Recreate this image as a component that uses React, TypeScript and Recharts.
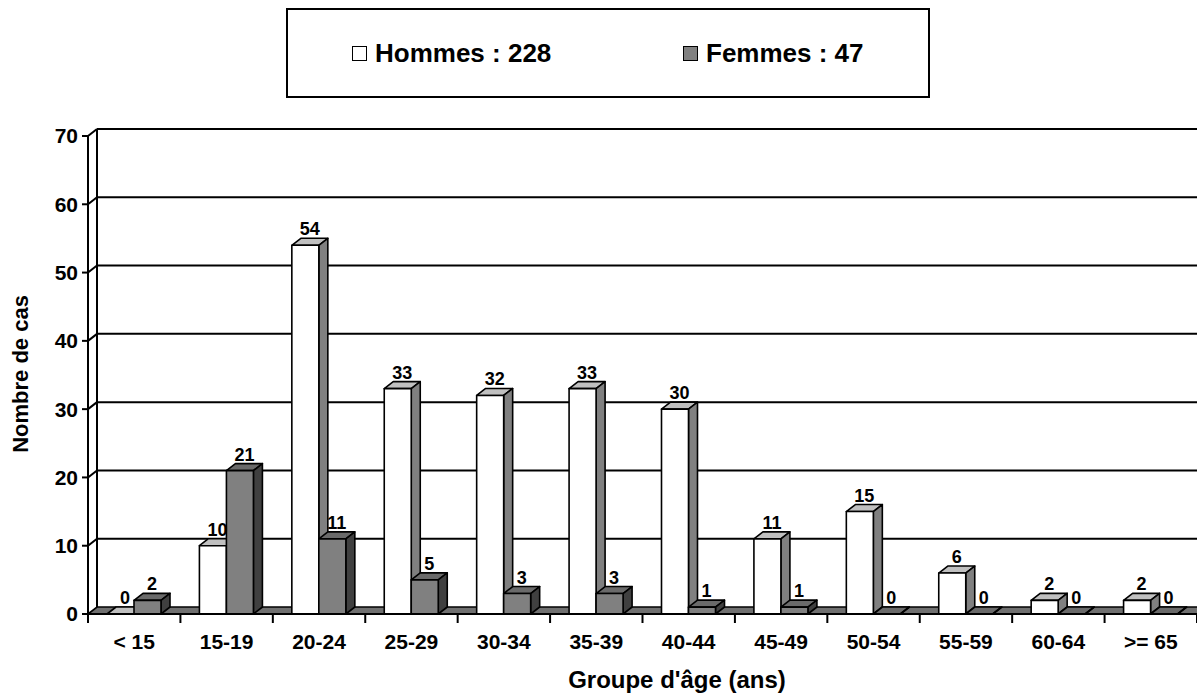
import React from 'react'
import { BarChart, Bar, XAxis, YAxis, CartesianGrid, Legend, LabelList, Label } from 'recharts'

const categories = ['< 15', '15-19', '20-24', '25-29', '30-34', '35-39', '40-44', '45-49', '50-54', '55-59', '60-64', '>= 65']
const hommes = [0, 10, 54, 33, 32, 33, 30, 11, 15, 6, 2, 2]
const femmes = [2, 21, 11, 5, 3, 3, 1, 1, 0, 0, 0, 0]
const yTicks = [0, 10, 20, 30, 40, 50, 60, 70]

const data = categories.map((name, i) => ({ name, hommes: hommes[i], femmes: femmes[i] }))
const totalHommes = hommes.reduce((a, b) => a + b, 0)
const totalFemmes = femmes.reduce((a, b) => a + b, 0)

// 3d depth of the Excel-like chart
const DX = 9
const DY = 7
const FONT = '"Liberation Sans", Arial, sans-serif'

const box3d = (front: string, top: string, side: string) => (props: any) => {
  const x = Number(props.x)
  const y = Number(props.y)
  const w = Number(props.width)
  const h = Number(props.height) || 0
  if (!isFinite(x) || !isFinite(y)) return null
  return (
    <g stroke="#000" strokeWidth={1.6} strokeLinejoin="round">
      <polygon points={`${x},${y} ${x + DX},${y - DY} ${x + w + DX},${y - DY} ${x + w},${y}`} fill={top} />
      <polygon points={`${x + w},${y} ${x + w + DX},${y - DY} ${x + w + DX},${y + h - DY} ${x + w},${y + h}`} fill={side} />
      {h > 0 && <rect x={x} y={y} width={w} height={h} fill={front} />}
    </g>
  )
}

const valueLabel = (props: any) => {
  const x = Number(props.x)
  const y = Number(props.y)
  const w = Number(props.width)
  return (
    <text x={x + w / 2 + DX / 2} y={y - DY - 3} textAnchor="middle" fontSize={18} fontWeight="bold" fontFamily={FONT} fill="#000">
      {props.value}
    </text>
  )
}

const gridLine = (p: any) => {
  const x1 = Number(p.x1)
  const x2 = Number(p.x2)
  const y = Number(p.y1)
  const bottom = p.y != null && p.height != null ? Number(p.y) + Number(p.height) : NaN
  const isFloor = Math.abs(y - bottom) < 0.5
  if (isFloor) {
    return (
      <g key={p.key}>
        <polygon points={`${x1},${y} ${x1 + DX},${y - DY} ${x2 + DX},${y - DY} ${x2},${y}`} fill="#707070" stroke="#000" strokeWidth={1.6} />
      </g>
    )
  }
  return (
    <g key={p.key} stroke="#000" strokeWidth={2}>
      <line x1={x1 + DX} y1={y - DY} x2={x2 + DX} y2={y - DY} />
      <line x1={x1} y1={y} x2={x1 + DX} y2={y - DY} />
    </g>
  )
}

const wallLine = (p: any) => (
  <line key={p.key} x1={Number(p.x1) + DX} y1={Number(p.y1) - DY} x2={Number(p.x2) + DX} y2={Number(p.y2) - DY} stroke="#000" strokeWidth={2} />
)

const XTick = (props: any) => {
  const { x, y, payload, index, width, visibleTicksCount } = props
  const half = payload?.offset ?? Number(width) / (visibleTicksCount || categories.length) / 2
  const left = Number(x) - half
  return (
    <g>
      <line x1={left} y1={y} x2={left} y2={Number(y) + 9} stroke="#000" strokeWidth={2} />
      {index === categories.length - 1 && (
        <line x1={Number(x) + half} y1={y} x2={Number(x) + half} y2={Number(y) + 9} stroke="#000" strokeWidth={2} />
      )}
      <text x={x} y={Number(y) + 35} textAnchor="middle" fontSize={21} fontWeight="bold" fontFamily={FONT} fill="#000">
        {payload.value}
      </text>
    </g>
  )
}

const LegendBox = () => (
  <div style={{ position: 'relative', width: 644, height: 90, boxSizing: 'border-box', border: '2px solid #000', background: '#fff', fontFamily: FONT, fontWeight: 'bold', fontSize: 26 }}>
    <div style={{ position: 'absolute', left: 64, top: 36, width: 15, height: 15, boxSizing: 'border-box', border: '1.5px solid #000', background: '#fff' }} />
    <div style={{ position: 'absolute', left: 87, top: 28, lineHeight: '30px', whiteSpace: 'nowrap' }}>{`Hommes : ${totalHommes}`}</div>
    <div style={{ position: 'absolute', left: 395, top: 36, width: 15, height: 15, boxSizing: 'border-box', border: '1.5px solid #000', background: '#808080' }} />
    <div style={{ position: 'absolute', left: 418, top: 28, lineHeight: '30px', whiteSpace: 'nowrap' }}>{`Femmes : ${totalFemmes}`}</div>
  </div>
)

export default function App() {
  return (
    <div style={{ position: 'absolute', left: 0, top: 0, width: 1197, height: 694, background: '#fff' }}>
      <BarChart width={1197} height={694} data={data} margin={{ top: 136, right: 0, bottom: 30, left: 28 }} barGap={0} barSize={27}>
        <CartesianGrid
          horizontal={gridLine}
          vertical={wallLine}
          verticalCoordinatesGenerator={({ offset }: any) => [offset.left]}
          stroke="#000"
        />
        <XAxis
          dataKey="name"
          height={50}
          tickSize={0}
          tickMargin={0}
          tickLine={false}
          axisLine={{ stroke: '#000', strokeWidth: 2 }}
          tick={<XTick />}
          interval={0}
        >
          <Label
            content={() => (
              <text x={677} y={688} textAnchor="middle" fontSize={24} fontWeight="bold" fontFamily={FONT} fill="#000">
                Groupe d'âge (ans)
              </text>
            )}
          />
        </XAxis>
        <YAxis
          width={60}
          domain={[0, 70]}
          ticks={yTicks}
          interval={0}
          tickSize={6}
          tickMargin={4}
          axisLine={{ stroke: '#000', strokeWidth: 2 }}
          tickLine={{ stroke: '#000', strokeWidth: 2 }}
          tick={{ fill: '#000', fontSize: 21, fontWeight: 'bold', fontFamily: FONT }}
        >
          <Label
            content={() => (
              <text transform="translate(28, 374) rotate(-90)" textAnchor="middle" fontSize={22} fontWeight="bold" fontFamily={FONT} fill="#000">
                Nombre de cas
              </text>
            )}
          />
        </YAxis>
        <Legend
          content={<LegendBox />}
          layout="horizontal"
          verticalAlign="middle"
          align="center"
          wrapperStyle={{ position: 'absolute', left: 286, top: 8, width: 644, height: 90 }}
        />
        <Bar dataKey="hommes" shape={box3d('#ffffff', '#c0c0c0', '#808080')} isAnimationActive={false}>
          <LabelList dataKey="hommes" content={valueLabel} />
        </Bar>
        <Bar dataKey="femmes" shape={box3d('#808080', '#6a6a6a', '#404040')} isAnimationActive={false}>
          <LabelList dataKey="femmes" content={valueLabel} />
        </Bar>
      </BarChart>
    </div>
  )
}
